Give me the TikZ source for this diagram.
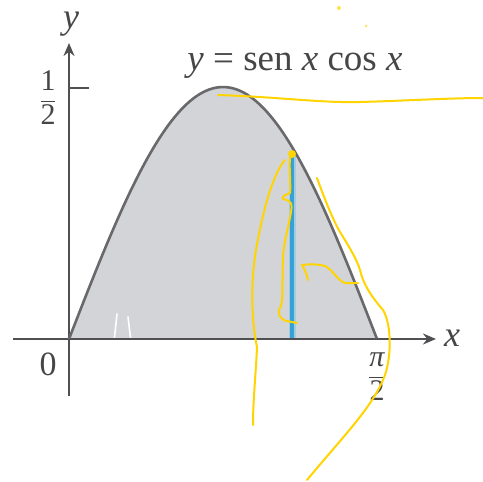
\documentclass[tikz,border=0pt]{standalone}
\usepackage{fontspec}
\setmainfont{Liberation Serif}
\usetikzlibrary{arrows.meta}
\definecolor{areafill}{RGB}{211,212,216}
\definecolor{curvegray}{RGB}{105,105,108}
\definecolor{axisgray}{RGB}{80,80,82}
\definecolor{textgray}{RGB}{70,70,72}
\definecolor{slice}{RGB}{55,160,212}
\definecolor{sliceglow}{RGB}{160,205,228}
\definecolor{marker}{RGB}{255,212,0}
\tikzset{
  axisline/.style={draw=axisgray,line width=2.6pt,-{Stealth[length=13pt,width=11pt]}},
  curveline/.style={draw=curvegray,line width=2.6pt},
  lbl/.style={text=textgray,inner sep=0pt},
  scribble/.style={draw=marker,line width=2pt,line cap=round,line join=round},
}
\begin{document}
\begin{tikzpicture}[x=1pt,y=-1pt]
\useasboundingbox (0,0) rectangle (483,482);
% area
\fill[areafill] plot[domain=0:1,samples=80,smooth] ({69+308*\x},{339-252*sin(180*\x)}) -- cycle;
% slice
\draw[sliceglow,line width=7pt] (292,151) -- (292,339);
\draw[slice,line width=3.5pt] (292,151) -- (292,339);
% white marks
\draw[white,line width=1.6pt,line cap=round] (117,314) -- (114,342);
\draw[white,line width=1.6pt,line cap=round] (128,317) -- (131,342);
% axes
\coordinate (xs) at (13,339);
\coordinate (xe) at (436,339);
\coordinate (ys) at (69,396);
\coordinate (ye) at (69,43);
\draw[axisline] (xs) -- (xe);
\draw[axisline] (ys) -- (ye);
% tick
\coordinate (t0) at (69,88);
\coordinate (t1) at (89,88);
\draw[axisgray,line width=2.4pt] (t0) -- (t1);
% curve
\draw[curveline] plot[domain=0:1,samples=80,smooth] ({69+308*\x},{339-252*sin(180*\x)});
% labels
\node[lbl,font=\fontsize{36}{36}\selectfont\itshape] (ylab) at (71,24) {y};
\node[lbl,font=\fontsize{36}{36}\selectfont\itshape] (xlab) at (452,338) {x};
\node[lbl,font=\fontsize{34}{34}\selectfont] (zero) at (48,364) {0};
\node[lbl,font=\fontsize{30}{30}\selectfont] (half) at (48,98) {$\displaystyle\frac{\textrm{1}}{\textrm{2}}$};
\node[lbl,font=\fontsize{30}{30}\selectfont] (pihalf) at (377,377) {$\displaystyle\frac{\textit{π}}{\textrm{2}}$};
\node[lbl,font=\fontsize{37}{37}\selectfont] (eq) at (295,66) {\textit{y} = sen \textit{x} cos \textit{x}};
% yellow annotations
\draw[scribble] (218,95) .. controls (280,97) and (320,103) .. (360,102) .. controls (400,101) and (450,98) .. (483,98);
\fill[marker] (292,154) circle (4pt);
\fill[marker!70!white] (339,8) circle (2pt);
\fill[marker!60!white] (366,26) circle (1.5pt);
\draw[scribble] (285,160) .. controls (272,175) and (262,215) .. (256,250) .. controls (250,285) and (252,325) .. (257,347) .. controls (256,372) and (253,400) .. (253,425);
\draw[scribble] (290,157) .. controls (289,170) and (291,185) .. (290,193) .. controls (285,195) and (281,197) .. (283,199) .. controls (293,201) and (292,205) .. (291,212) .. controls (288,230) and (283,245) .. (283,260) .. controls (282,285) and (283,300) .. (281,306) .. controls (276,313) and (280,320) .. (287,321) -- (297,323);
\draw[scribble] (317,178) .. controls (325,200) and (333,220) .. (340,232) .. controls (350,248) and (357,260) .. (360,270) .. controls (363,283) and (370,295) .. (383,310) .. controls (392,325) and (392,360) .. (383,380) .. controls (370,410) and (340,440) .. (307,480);
\draw[scribble] (308,280) .. controls (307,273) and (303,267) .. (302,265) .. controls (310,264) and (318,264) .. (325,266) .. controls (333,270) and (337,280) .. (345,283) -- (358,283);
\end{tikzpicture}
\end{document}
